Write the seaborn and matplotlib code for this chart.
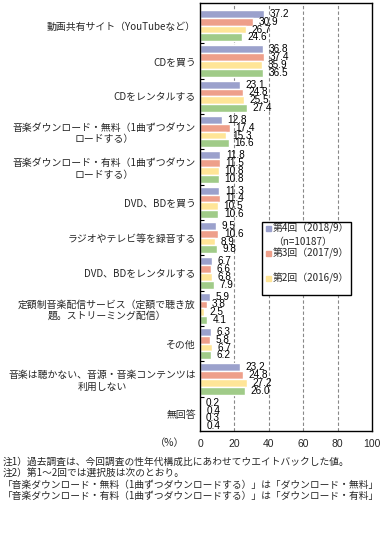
import matplotlib
matplotlib.use("Agg")
import matplotlib.pyplot as plt
import seaborn as sns
import pandas as pd

# categories (top to bottom)
categories = [
    "動画共有サイト（YouTubeなど）",
    "CDを買う",
    "CDをレンタルする",
    "音楽ダウンロード・無料（1曲ずつダウン\nロードする）",
    "音楽ダウンロード・有料（1曲ずつダウン\nロードする）",
    "DVD、BDを買う",
    "ラジオやテレビ等を録音する",
    "DVD、BDをレンタルする",
    "定額制音楽配信サービス（定額で聴き放\n題。ストリーミング配信）",
    "その他",
    "音楽は聴かない、音源・音楽コンテンツは\n利用しない",
    "無回答",
]

series = ["第4回（2018/9）", "第3回（2017/9）", "第2回（2016/9）", "第1回"]

r4 = [37.2, 36.8, 23.1, 12.8, 11.8, 11.3, 9.5, 6.7, 5.9, 6.3, 23.2, 0.2]
r3 = [30.9, 37.4, 24.8, 17.4, 11.5, 11.4, 10.6, 6.6, 3.8, 5.8, 24.8, 0.4]
r2 = [26.7, 35.9, 25.5, 15.3, 10.8, 10.5, 8.9, 6.8, 2.5, 6.7, 27.2, 0.3]
r1 = [24.6, 36.5, 27.4, 16.6, 10.8, 10.6, 9.8, 7.9, 4.1, 6.2, 26.0, 0.4]

colors = ["#9BA1CC", "#EE9F8A", "#FFE597", "#A0CB88"]

notes = [
    "注1）過去調査は、今回調査の性年代構成比にあわせてウエイトバックした値。",
    "注2）第1～2回では選択肢は次のとおり。",
    "「音楽ダウンロード・無料（1曲ずつダウンロードする）」は「ダウンロード・無料」",
    "「音楽ダウンロード・有料（1曲ずつダウンロードする）」は「ダウンロード・有料」",
]

rows = []
for name, vals in zip(series, [r4, r3, r2, r1]):
    for cat, v in zip(categories, vals):
        rows.append({"項目": cat, "回": name, "値": v})
df = pd.DataFrame(rows)

sns.set_theme(style="white")
plt.rcParams["font.family"] = ["Noto Sans CJK JP", "DejaVu Sans"]

W, H = 392, 533
fig = plt.figure(figsize=(W / 100, H / 100), dpi=100)
ax = fig.add_axes([200 / W, 1 - 431 / H, 172 / W, 428 / H])

sns.barplot(data=df, y="項目", x="値", hue="回", orient="h", palette=colors,
            order=categories, hue_order=series, width=0.88, saturation=1,
            gap=0, legend=False, ax=ax)

for cont in ax.containers:
    ax.bar_label(cont, fmt="%.1f", padding=4.0, fontsize=7.2,
                 family="Liberation Sans", color="black")

ax.set_xlim(0, 100)
ax.set_ylim(11.47, -0.64)
ax.set_xticks([0, 20, 40, 60, 80, 100])
ax.set_xticklabels(["0", "20", "40", "60", "80", "100"], fontsize=7.5,
                   family="Liberation Sans")
ax.tick_params(axis="x", length=0, pad=6)
ax.tick_params(axis="y", length=0, pad=3, labelsize=7.1)
for lab in ax.get_yticklabels():
    lab.set_multialignment("center")
ax.set_yticks([i + 0.5 for i in range(len(categories) - 1)], minor=True)
ax.tick_params(axis="y", which="minor", direction="in", length=3, width=0.8,
               color="black", left=True)
ax.set_xlabel("")
ax.set_ylabel("")

for x in [20, 40, 60, 80]:
    ax.axvline(x, color="#888888", linestyle=(0, (3, 2)), linewidth=0.8, zorder=0)

for s in ax.spines.values():
    s.set_color("black")
    s.set_linewidth(1)

fig.text(170 / W, 1 - 443 / H, "（%）", fontsize=7.3, ha="center", va="center")

# legend box drawn by hand to match the reference spacing
fig.patches.append(plt.Rectangle((262 / W, 1 - 295 / H), 89 / W, 73 / H,
                                 transform=fig.transFigure, facecolor="white",
                                 edgecolor="black", linewidth=1, zorder=5))
leg_rows = [(228, colors[0], "第4回（2018/9）"), (242, None, "（n=10187）"),
            (253, colors[1], "第3回（2017/9）"), (278, colors[2], "第2回（2016/9）")]
for y, c, txt in leg_rows:
    if c is not None:
        fig.patches.append(plt.Rectangle((266 / W, 1 - (y + 3) / H), 5 / W, 5 / H,
                                         transform=fig.transFigure, color=c, zorder=6))
    fig.text(273 / W, 1 - y / H, txt, fontsize=7.1, ha="left", va="center", zorder=7)

for i, line in enumerate(notes):
    fig.text(3 / W, 1 - (462 + i * 11.3) / H, line, fontsize=7.0,
             ha="left", va="center")

fig.savefig("out.png", dpi=100)
